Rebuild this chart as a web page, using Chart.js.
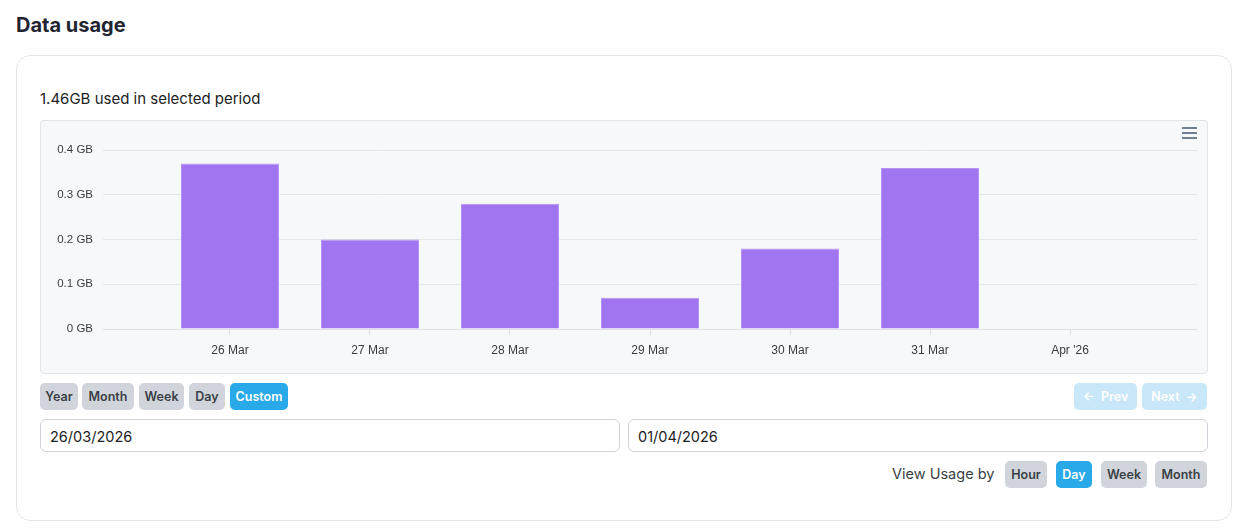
<!DOCTYPE html>
<html>
<head>
<meta charset="utf-8">
<script src="https://cdn.jsdelivr.net/npm/chart.js@4.4.1/dist/chart.umd.min.js"></script>
<style>
  body { margin: 0; background: #fff; font-family: "Inter", "Noto Sans", sans-serif; color: #1f2430; }
  h2 { position: absolute; left: 16px; top: 13px; margin: 0; font-size: 20px; font-weight: 700; letter-spacing: 0px; }
  .card { position: absolute; left: 16px; top: 55px; width: 1214px; height: 464px; border: 1px solid #e4e6ea; border-radius: 14px; }
  .summary { position: absolute; left: 40px; top: 89px; font-size: 15px; color: #222; }
  .chartbox { position: absolute; left: 40px; top: 120px; width: 1166px; height: 252px; background: #f7f8fa; border: 1px solid #e2e4e8; border-radius: 4px; }
  .menu { position: absolute; right: 10px; top: 6px; width: 15px; }
  .menu div { height: 2px; background: #6e8192; margin-bottom: 3px; }
  .btn { position: absolute; height: 27px; line-height: 27px; border-radius: 5px; background: #d1d5db; color: #3a3f47; font-size: 12.5px; font-weight: 600; text-align: center; }
  .btn.on { background: #29a9e8; color: #fff; }
  .btn.off { background: #c8e7f8; color: #fff; }
  .input { position: absolute; top: 419px; height: 33px; line-height: 33px; border: 1px solid #cfd2d8; border-radius: 6px; padding-left: 9px; font-size: 14.5px; color: #222; box-sizing: border-box; }
  .label { position: absolute; left: 892px; top: 465px; font-size: 14.5px; color: #3a3f47; }
</style>
</head>
<body>
<h2>Data usage</h2>
<div class="card"></div>
<div class="summary">1.46GB used in selected period</div>
<div class="chartbox">
  <canvas id="chart"></canvas>
  <div class="menu"><div></div><div></div><div></div></div>
</div>

<div class="btn" style="left:40px;top:383px;width:38px">Year</div>
<div class="btn" style="left:82px;top:383px;width:52px">Month</div>
<div class="btn" style="left:139px;top:383px;width:45px">Week</div>
<div class="btn" style="left:189px;top:383px;width:36px">Day</div>
<div class="btn on" style="left:230px;top:383px;width:58px">Custom</div>
<div class="btn off" style="left:1074px;top:383px;width:63px">&larr;&nbsp; Prev</div>
<div class="btn off" style="left:1142px;top:383px;width:65px">Next &nbsp;&rarr;</div>

<div class="input" style="left:40px;width:580px">26/03/2026</div>
<div class="input" style="left:628px;width:580px">01/04/2026</div>

<div class="label">View Usage by</div>
<div class="btn" style="left:1005px;top:461px;width:42px">Hour</div>
<div class="btn on" style="left:1056px;top:461px;width:36px">Day</div>
<div class="btn" style="left:1101px;top:461px;width:46px">Week</div>
<div class="btn" style="left:1155px;top:461px;width:52px">Month</div>

<script>
var days = ["26 Mar", "27 Mar", "28 Mar", "29 Mar", "30 Mar", "31 Mar", "Apr '26"]
var usageGB = [0.37, 0.20, 0.28, 0.07, 0.18, 0.36, null]
var yTicks = [0, 0.1, 0.2, 0.3, 0.4]

var points = []
days.forEach((d, i) => points.push({ x: i, y: usageGB[i] }))

var canvas = document.getElementById("chart")
canvas.width = 1166
canvas.height = 252

var myChart = new Chart(canvas, {
  type: "bar",
  data: {
    datasets: [{
      label: "Usage",
      data: points,
      backgroundColor: "#a174f0",
      borderColor: "#b592f4",
      borderWidth: 1,
      barPercentage: 0.7,
      categoryPercentage: 1
    }]
  },
  options: {
    responsive: false,
    animation: false,
    layout: { padding: { top: 29, right: 10, left: 0, bottom: 0 } },
    plugins: { legend: { display: false }, tooltip: { enabled: false } },
    scales: {
      x: {
        type: "linear",
        offset: false,
        min: -0.907,
        max: 6.907,
        afterBuildTicks: (scale) => { scale.ticks = days.map((d, i) => ({ value: i })) },
        afterFit: (scale) => { scale.height = 44 },
        grid: { offset: false, drawOnChartArea: false, tickLength: 6, tickColor: "#e0e0e0" },
        border: { color: "#e0e0e0" },
        ticks: {
          padding: 8,
          color: "#373d3f",
          font: { family: "Liberation Sans", size: 12 },
          callback: (v) => days[v],
          maxRotation: 0
        }
      },
      y: {
        min: 0,
        max: 0.4,
        afterBuildTicks: (scale) => { scale.ticks = yTicks.map(v => ({ value: v })) },
        afterFit: (scale) => { scale.width = 62 },
        grid: { drawTicks: false, color: "#e6e6e6" },
        border: { display: false },
        ticks: {
          padding: 10,
          color: "#373d3f",
          font: { family: "Liberation Sans", size: 11.5 },
          callback: (v) => v + " GB"
        }
      }
    }
  }
})
</script>
</body>
</html>
